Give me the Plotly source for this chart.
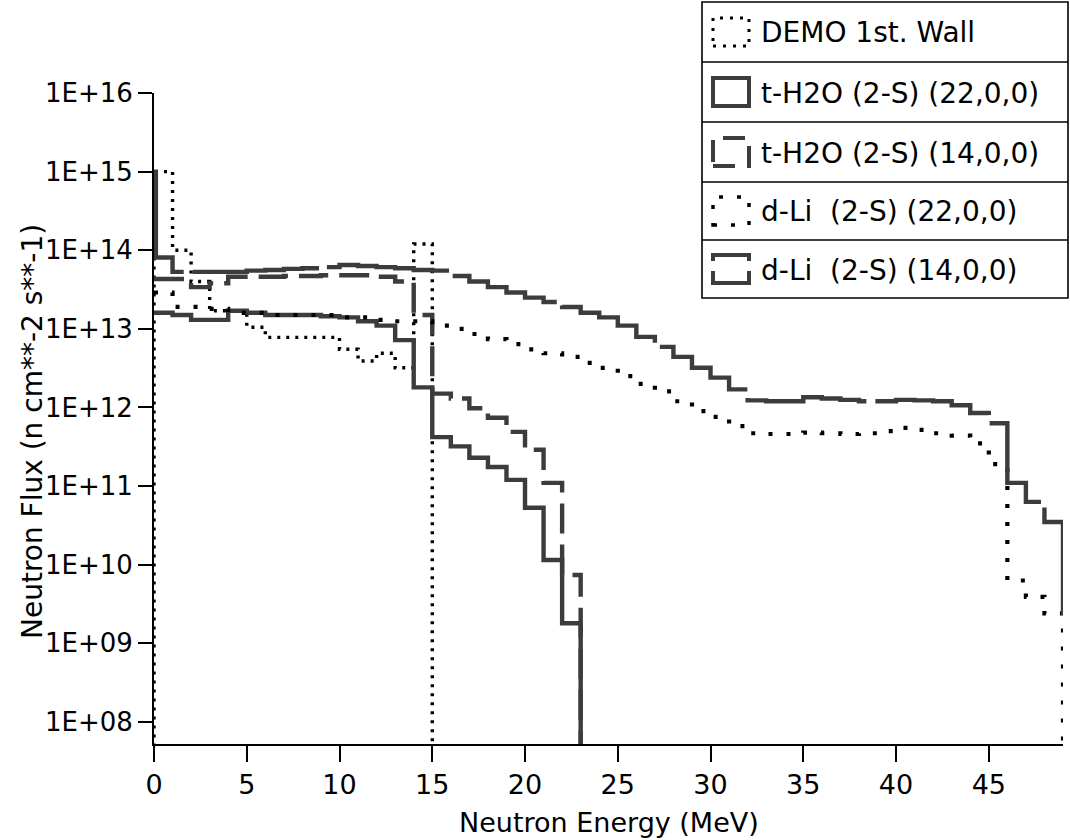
import plotly.graph_objects as go

# ---------------- data (group structure: 1 MeV bins, flux in n cm**-2 s**-1) -------------
FLOOR = 1e7  # "zero" flux, below the visible axis range

demo_edges = [0, 1, 2, 3, 5, 6, 10, 11, 12, 13, 14, 15]
demo_flux = [1.0e15, 1.0e14, 4.0e13, 1.7e13, 1.05e13, 7.8e12, 5.5e12, 3.9e12, 4.9e12, 3.2e12, 1.2e14]

th22_edges = list(range(0, 24))
th22_flux = [1.6e13, 1.5e13, 1.3e13, 1.3e13, 1.7e13, 1.6e13, 1.5e13, 1.5e13, 1.5e13, 1.45e13,
             1.4e13, 1.25e13, 1.1e13, 7.2e12, 1.8e12, 4.2e11, 3.2e11, 2.3e11, 1.75e11, 1.2e11,
             5.3e10, 1.15e10, 1.8e9]

th14_edges = list(range(0, 24))
th14_flux = [4.3e13, 4.3e13, 3.4e13, 3.8e13, 4.6e13, 4.6e13, 4.6e13, 4.7e13, 4.7e13, 4.8e13,
             4.8e13, 4.8e13, 4.6e13, 4.0e13, 1.5e13, 1.5e12, 1.3e12, 9.8e11, 7.4e11, 4.9e11,
             2.9e11, 1.1e11, 7.4e9]

dli22_edges = list(range(0, 50))
dli22_flux = [2.9e13, 1.9e13, 1.9e13, 1.8e13, 1.6e13, 1.6e13, 1.5e13, 1.5e13, 1.5e13, 1.5e13,
              1.4e13, 1.4e13, 1.3e13, 1.25e13, 1.25e13, 1.1e13, 1.0e13, 8.6e12, 7.4e12, 6.4e12,
              5.5e12, 4.9e12, 4.4e12, 3.7e12, 3.2e12, 2.5e12, 2.0e12, 1.6e12, 1.2e12, 9.0e11,
              7.6e11, 5.8e11, 4.7e11, 4.6e11, 4.6e11, 4.8e11, 4.7e11, 4.6e11, 4.7e11, 5.0e11,
              5.5e11, 5.2e11, 4.7e11, 4.4e11, 3.5e11, 1.9e11, 6.3e9, 3.9e9, 2.4e9]

dli14_edges = [0, 0.1] + list(range(1, 50))
dli14_flux = [1.0e15, 8.1e13, 5.3e13, 5.3e13, 5.3e13, 5.3e13, 5.5e13, 5.6e13, 5.8e13, 5.9e13,
              6.1e13, 6.5e13, 6.3e13, 6.1e13, 5.9e13, 5.6e13, 5.5e13, 4.7e13, 4.0e13, 3.4e13,
              2.9e13, 2.5e13, 2.2e13, 1.9e13, 1.6e13, 1.4e13, 1.1e13, 7.9e12, 5.9e12, 4.4e12,
              3.2e12, 2.4e12, 1.7e12, 1.23e12, 1.2e12, 1.2e12, 1.35e12, 1.3e12, 1.25e12, 1.2e12,
              1.2e12, 1.25e12, 1.23e12, 1.2e12, 1.07e12, 8.5e11, 6.3e11, 1.1e11, 6.3e10, 3.5e10]
dli14_tail = 2.3e9

names = ["DEMO 1st. Wall", "t-H2O (2-S) (22,0,0)", "t-H2O (2-S) (14,0,0)",
         "d-Li  (2-S) (22,0,0)", "d-Li  (2-S) (14,0,0)"]

y_tickvals = [1e8, 1e9, 1e10, 1e11, 1e12, 1e13, 1e14, 1e15, 1e16]
y_ticktext = ["1E+08", "1E+09", "1E+10", "1E+11", "1E+12", "1E+13", "1E+14", "1E+15", "1E+16"]
x_tickvals = [0, 5, 10, 15, 20, 25, 30, 35, 40, 45]

for e, v in [(demo_edges, demo_flux), (th22_edges, th22_flux), (th14_edges, th14_flux),
             (dli22_edges, dli22_flux), (dli14_edges, dli14_flux)]:
    assert len(e) == len(v) + 1

# ---------------- styles ----------------
FONT = "DejaVu Sans"
GRAY = "#3c3c3c"
styles = {
    names[0]: dict(color="black", width=3.4, dash="3px,6px"),
    names[1]: dict(color=GRAY, width=4.4, dash="solid"),
    names[2]: dict(color=GRAY, width=4.4, dash="30px,11px"),
    names[3]: dict(color="black", width=4.2, dash="4px,14px"),
    names[4]: dict(color=GRAY, width=4.4, dash="130px,9px"),
}


def step(edges, vals, start=None, end=FLOOR):
    xs = list(edges)
    ys = list(vals) + [end]
    if start is not None:
        xs = [edges[0]] + xs
        ys = [start] + ys
    return xs, ys


series = [
    (names[0],) + step(demo_edges, demo_flux, start=FLOOR),
    (names[1],) + step(th22_edges, th22_flux),
    (names[2],) + step(th14_edges, th14_flux),
    (names[3],) + step(dli22_edges, dli22_flux),
    (names[4],) + step(dli14_edges, dli14_flux, end=dli14_tail),
]

fig = go.Figure()
for name, xs, ys in series:
    fig.add_trace(go.Scatter(x=xs, y=ys, mode="lines", line_shape="hv", name=name,
                             line=styles[name], showlegend=False))

# ---------------- layout ----------------
W, H = 1070, 840
L, R, T, B = 154, 7, 93, 96
pw, ph = W - L - R, H - T - B


def px(x):
    return (x - L) / pw


def py(y):
    return (H - B - y) / ph


fig.update_layout(
    width=W, height=H,
    margin=dict(l=L, r=R, t=T, b=B),
    paper_bgcolor="white", plot_bgcolor="white",
    font=dict(family=FONT, size=26, color="black"),
    xaxis=dict(range=[0, 49], tickvals=x_tickvals, ticks="outside", ticklen=16, tickwidth=1.5,
               tickcolor="black", showline=True, linecolor="black", linewidth=2,
               showgrid=False, zeroline=False, tickfont=dict(size=27, family=FONT)),
    yaxis=dict(type="log", range=[7.72, 16], tickvals=y_tickvals, ticktext=y_ticktext,
               ticks="outside", ticklen=14, tickwidth=1.5, tickcolor="black",
               showline=True, linecolor="black", linewidth=2,
               showgrid=False, zeroline=False, tickfont=dict(size=26, family=FONT)),
)

annotations = [
    dict(text="Neutron Energy (MeV)", xref="paper", yref="paper", x=0.5, y=py(822),
         xanchor="center", yanchor="middle", showarrow=False, font=dict(size=27, family=FONT)),
    dict(text="Neutron Flux (n cm**-2 s**-1)", xref="paper", yref="paper", x=px(32), y=py(432),
         xanchor="center", yanchor="middle", textangle=-90, showarrow=False,
         font=dict(size=28, family=FONT)),
]

# ---------------- hand-drawn legend box ----------------
shapes = []
LX0, LX1, LY0, LY1 = 702, 1068, 2, 298
shapes.append(dict(type="rect", xref="paper", yref="paper", x0=px(LX0), x1=px(LX1),
                   y0=py(LY1), y1=py(LY0), line=dict(color="black", width=1.6),
                   fillcolor="white", layer="above"))
for sep in [62, 122, 182, 240]:
    shapes.append(dict(type="line", xref="paper", yref="paper", x0=px(LX0), x1=px(LX1),
                       y0=py(sep), y1=py(sep), line=dict(color="black", width=1.6), layer="above"))
row_centers = [32, 92, 152, 211, 269]
sym_styles = [
    dict(color="black", width=3, dash="3px,7px"),
    dict(color=GRAY, width=4, dash="solid"),
    dict(color=GRAY, width=4, dash="22px,12px"),
    dict(color="black", width=3.5, dash="4px,14px"),
    dict(color=GRAY, width=4, dash="48px,10px"),
]
for name, cy, st in zip(names, row_centers, sym_styles):
    shapes.append(dict(type="rect", xref="paper", yref="paper", x0=px(713), x1=px(749),
                       y0=py(cy + 14), y1=py(cy - 14), line=st, layer="above"))
    annotations.append(dict(text=name.replace("  ", "&nbsp; "), xref="paper", yref="paper",
                            x=px(759), y=py(cy + 1), xanchor="left", yanchor="middle",
                            showarrow=False, font=dict(size=28, family=FONT)))

fig.update_layout(shapes=shapes, annotations=annotations)
fig.write_html("out.html")
